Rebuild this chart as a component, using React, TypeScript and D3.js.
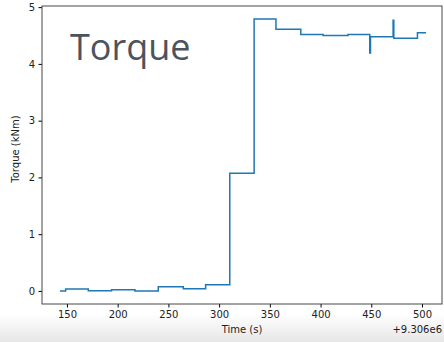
import React, { useEffect, useRef } from 'react';
import * as d3 from 'd3';

// change points of the torque signal (time offset from 9.306e6 s, kNm)
const times = [
  143, 148.7, 171, 194, 217, 240, 264.7, 286.7, 310.5, 334.5, 356, 380.5,
  402.5, 427, 448.5, 449.2, 471.5, 472.2, 495.5, 504,
];
const torque = [
  0.0, 0.035, 0.005, 0.02, 0.0, 0.075, 0.04, 0.11, 2.075, 4.79, 4.61, 4.52,
  4.5, 4.52, 4.19, 4.48, 4.77, 4.45, 4.55, 4.55,
];
const xTicks = [150, 200, 250, 300, 350, 400, 450, 500];
const yTicks = [0, 1, 2, 3, 4, 5];

const W = 444;
const H = 342;
const margin = { top: 6, right: 2, bottom: 38, left: 42 };

const App: React.FC = () => {
  const ref = useRef<SVGSVGElement | null>(null);

  useEffect(() => {
    if (!ref.current) {
      return;
    }
    const svg = d3.select(ref.current);
    svg.selectAll('*').remove();

    const x = d3
      .scaleLinear()
      .domain([125.4, 519.7])
      .range([margin.left, W - margin.right]);
    const y = d3
      .scaleLinear()
      .domain([-0.23, 5.02])
      .range([H - margin.bottom, margin.top]);

    // greyish strip at the bottom of the screenshot
    const grad = svg
      .append('defs')
      .append('linearGradient')
      .attr('id', 'bottomFade')
      .attr('x1', 0)
      .attr('y1', 0)
      .attr('x2', 0)
      .attr('y2', 1);
    grad.append('stop').attr('offset', 0).attr('stop-color', '#ffffff');
    grad.append('stop').attr('offset', 1).attr('stop-color', '#e6e6e6');
    svg.append('rect').attr('width', W).attr('height', H).attr('fill', '#fff');
    svg
      .append('rect')
      .attr('y', 314)
      .attr('width', W)
      .attr('height', H - 314)
      .attr('fill', 'url(#bottomFade)');

    const line = d3
      .line<number>()
      .x((d, i) => x(times[i]))
      .y((d) => y(d))
      .curve(d3.curveStepAfter);

    svg
      .append('path')
      .datum(torque)
      .attr('fill', 'none')
      .attr('stroke', '#1f77b4')
      .attr('stroke-width', 1.5)
      .attr('d', line);

    svg
      .append('g')
      .attr('transform', `translate(0,${H - margin.bottom})`)
      .call(
        d3
          .axisBottom(x)
          .tickValues(xTicks)
          .tickFormat(d3.format('d'))
          .tickSize(3.5)
          .tickPadding(3.5),
      )
      .call((g) => g.select('.domain').remove())
      .call((g) =>
        g
          .selectAll('text')
          .attr('font-family', 'DejaVu Sans')
          .attr('font-size', 10)
          .attr('fill', '#222'),
      );

    svg
      .append('g')
      .attr('transform', `translate(${margin.left},0)`)
      .call(
        d3
          .axisLeft(y)
          .tickValues(yTicks)
          .tickFormat(d3.format('d'))
          .tickSize(3.5)
          .tickPadding(3.5),
      )
      .call((g) => g.select('.domain').remove())
      .call((g) =>
        g
          .selectAll('text')
          .attr('font-family', 'DejaVu Sans')
          .attr('font-size', 10)
          .attr('fill', '#222'),
      );

    // frame
    svg
      .append('rect')
      .attr('x', margin.left)
      .attr('y', margin.top)
      .attr('width', W - margin.left - margin.right)
      .attr('height', H - margin.top - margin.bottom)
      .attr('fill', 'none')
      .attr('stroke', '#333')
      .attr('stroke-width', 0.9);

    svg
      .append('text')
      .attr('x', (margin.left + W - margin.right) / 2)
      .attr('y', 333)
      .attr('text-anchor', 'middle')
      .attr('font-family', 'DejaVu Sans')
      .attr('font-size', 10)
      .attr('fill', '#222')
      .text('Time (s)');

    svg
      .append('text')
      .attr('x', W - margin.right)
      .attr('y', 333)
      .attr('text-anchor', 'end')
      .attr('font-family', 'DejaVu Sans')
      .attr('font-size', 10)
      .attr('fill', '#222')
      .text('+9.306e6');

    svg
      .append('text')
      .attr('transform', `translate(19,${y(2.5)}) rotate(-90)`)
      .attr('text-anchor', 'middle')
      .attr('font-family', 'DejaVu Sans')
      .attr('font-size', 10)
      .attr('fill', '#222')
      .text('Torque (kNm)');

    svg
      .append('text')
      .attr('x', 70)
      .attr('y', 60)
      .attr('font-family', 'Open Sans')
      .attr('font-size', 36)
      .attr('fill', '#4b535d')
      .text('Torque');
  }, []);

  return (
    <svg
      ref={ref}
      width={W}
      height={H}
      style={{ position: 'absolute', left: 0, top: 0, display: 'block' }}
    />
  );
};

export default App;
